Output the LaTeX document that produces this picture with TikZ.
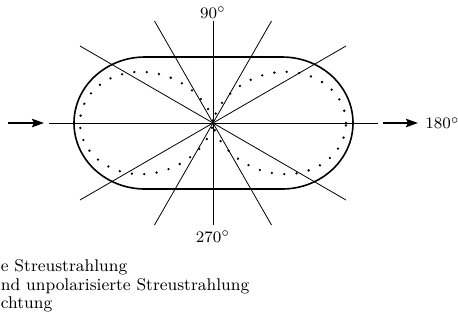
\documentclass[tikz,border=0pt]{standalone}
\usetikzlibrary{arrows.meta}
\begin{document}
\begin{tikzpicture}[x=0.5pt,y=0.5pt,
  thinline/.style={line width=0.4pt},
  lobe/.style={line width=0.8pt},
  dotcurve/.style={line width=1.3pt,line cap=round,dash pattern=on 0pt off 6.2pt},
  beam/.style={line width=0.9pt,-{Stealth[length=6pt,width=4.2pt,inset=1pt]}},
  lbl/.style={font=\fontsize{8.5}{9.3}\selectfont,inner sep=0pt}]
\useasboundingbox (-213,-200) rectangle (245,123);
% centre and line ends
\coordinate (C) at (0,0);
\coordinate (H1) at (-164,0); \coordinate (H2) at (165,0);
\coordinate (V1) at (0,102);  \coordinate (V2) at (0,-102);
\coordinate (P1) at (58.5,102);  \coordinate (P2) at (-58.5,-102);
\coordinate (Q1) at (-58.5,102); \coordinate (Q2) at (58.5,-102);
\coordinate (R1) at (133,77);  \coordinate (R2) at (-133,-77);
\coordinate (S1) at (-133,77); \coordinate (S2) at (133,-77);
\coordinate (A1) at (-205,0); \coordinate (A2) at (-169,0);
\coordinate (B1) at (170,0);  \coordinate (B2) at (205,0);
% radial lines
\draw[thinline] (H1) -- (H2);
\draw[thinline] (V1) -- (V2);
\draw[thinline] (P1) -- (P2);
\draw[thinline] (Q1) -- (Q2);
\draw[thinline] (R1) -- (R2);
\draw[thinline] (S1) -- (S2);
% total (stadium) curve
\draw[lobe] (-68,66) -- (69,66)
  arc[start angle=90,end angle=-90,x radius=35.5pt,y radius=33pt]
  -- (-68,-66)
  arc[start angle=270,end angle=90,x radius=35.5pt,y radius=33pt] -- cycle;
% polarised part (figure eight)
\draw[dotcurve] plot[domain=0:360,samples=240,smooth]
  ({133*cos(\x)*cos(\x)*cos(\x)},{133*cos(\x)*cos(\x)*sin(\x)});
% beam arrows
\draw[beam] (A1) -- (A2);
\draw[beam] (B1) -- (B2);
% angle labels
\node[lbl] (n90) at (0,110.5) {$90^\circ$};
\node[lbl,anchor=west] (n180) at (212,0) {$180^\circ$};
\node[lbl] (n270) at (0,-113.5) {$270^\circ$};
% legend text
\node[lbl,anchor=base west] (t1) at (-212.5,-148) {e Streustrahlung};
\node[lbl,anchor=base west] (t2) at (-212.5,-167) {nd unpolarisierte Streustrahlung};
\node[lbl,anchor=base west] (t3) at (-212.5,-185) {chtung};
\end{tikzpicture}
\end{document}
